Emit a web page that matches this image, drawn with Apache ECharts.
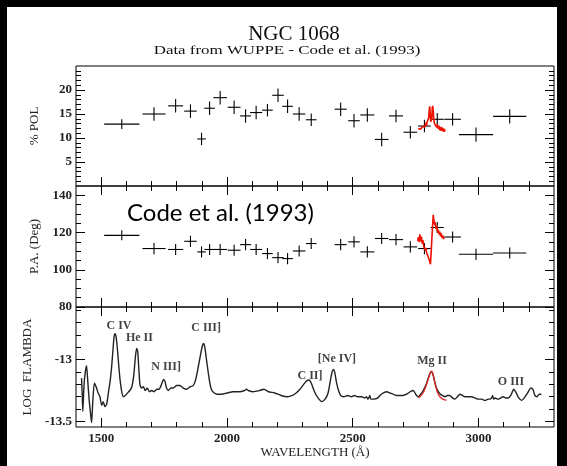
<!DOCTYPE html>
<html><head><meta charset="utf-8">
<script src="https://cdn.jsdelivr.net/npm/echarts@6/dist/echarts.min.js"></script>
<style>html,body{margin:0;padding:0;background:#000;}#c{width:567px;height:466px;}</style>
</head><body><div id="c"></div>
<script>
// ---- Data ----
const binLo = [1512,1664,1766,1830,1882,1910,1946,2003,2052,2092,2140,2180,2220,2262,2314,2428,2482,2530,2588,2644,2702,2760,2810,2864,2922,3058];
const binHi = [1652,1756,1826,1880,1916,1952,2000,2054,2096,2140,2182,2226,2262,2312,2356,2476,2528,2586,2642,2700,2756,2810,2862,2930,3058,3190];
const polVal = [12.9,15.0,16.7,15.6,9.8,16.2,18.4,16.4,14.6,15.3,15.8,18.9,16.6,15.0,13.8,16.0,13.6,14.8,9.7,14.6,11.2,12.5,13.9,13.9,10.7,14.5];
const polErr = [1.0,1.4,1.4,1.4,1.3,1.4,1.4,1.4,1.4,1.4,1.3,1.4,1.4,1.4,1.3,1.4,1.4,1.4,1.4,1.3,1.3,1.3,1.3,1.3,1.5,1.5];
const paVal = [118.5,111.4,110.9,115.3,109.6,110.9,110.9,110.5,113.5,110.9,108.7,106.5,106.0,110.1,114.1,113.5,115.0,109.6,116.8,116.2,112.3,111.4,122.7,117.6,108.3,109.0];
const paErr = [2.7,3.0,3.0,3.0,3.0,3.0,3.0,3.0,3.0,3.0,3.0,3.0,3.0,3.0,3.0,3.0,3.0,3.0,3.0,3.0,3.0,3.0,3.0,3.0,3.0,3.0];

const redPolLambda = [2760,2763,2766,2769,2772,2775,2778,2781,2784,2787,2790,2793,2796,2799,2802,2804,2806,2808,2810,2812,2814,2816,2818,2820,2822,2825,2828,2831,2834,2837,2840,2843,2846,2849,2852,2855,2858,2861,2864,2867];
const redPolVal = [12.0,11.6,12.3,11.8,12.2,11.9,12.4,12.0,12.8,12.3,13.2,12.6,13.4,13.0,14.2,15.8,16.6,15.0,13.4,13.0,14.0,16.2,16.7,15.6,14.0,13.0,12.6,13.1,12.2,12.8,11.9,12.5,11.6,12.3,11.5,12.2,11.4,12.0,11.3,11.8];
const redPaLambda = [2758,2761,2764,2767,2770,2773,2776,2779,2782,2785,2788,2791,2794,2797,2800,2803,2806,2809,2812,2815,2818,2820,2822,2824,2826,2828,2831,2834,2837,2840,2843,2846,2849,2852,2855,2858,2861,2864,2867];
const redPaVal = [115.5,117.5,114.8,119.0,115.2,117.8,114.0,116.0,112.5,113.5,110.5,111.8,109.0,110.0,107.0,108.0,104.5,103.0,110.0,118.0,125.0,129.5,127.0,128.0,124.0,125.5,122.0,123.5,120.0,121.5,119.0,120.5,118.0,119.5,117.0,118.5,116.5,117.5,116.0];

const specLambda = [1422,1425,1427,1432,1437,1442,1447,1452,1457,1462,1467,1473,1480,1488,1495,1502,1508,1515,1522,1530,1536,1542,1547,1551,1555,1559,1564,1570,1575,1581,1588,1596,1605,1614,1622,1630,1636,1641,1645,1649,1654,1660,1668,1675,1683,1692,1701,1710,1721,1730,1740,1748,1754,1760,1767,1777,1787,1800,1813,1826,1840,1853,1866,1876,1886,1895,1902,1907,1912,1918,1926,1933,1940,1950,1960,1980,2000,2025,2050,2070,2078,2085,2104,2130,2147,2165,2190,2215,2240,2260,2275,2290,2305,2318,2327,2335,2348,2362,2377,2390,2402,2412,2418,2423,2428,2435,2442,2452,2464,2480,2495,2506,2520,2535,2548,2555,2560,2564,2568,2572,2585,2600,2608,2622,2635,2648,2661,2675,2688,2700,2714,2728,2741,2750,2760,2770,2780,2790,2800,2807,2813,2820,2827,2835,2844,2855,2867,2876,2886,2896,2906,2916,2926,2936,2946,2960,2973,2986,2999,3012,3026,3038,3045,3052,3056,3060,3066,3078,3088,3098,3108,3118,3128,3140,3150,3160,3172,3182,3195,3208,3216,3224,3232,3242,3250];
const specFlux = [-13.15,-13.30,-13.42,-13.20,-13.10,-13.05,-13.18,-13.32,-13.42,-13.51,-13.33,-13.19,-13.22,-13.27,-13.30,-13.37,-13.34,-13.38,-13.36,-13.25,-13.17,-13.05,-12.92,-12.82,-12.79,-12.81,-12.90,-13.05,-13.16,-13.25,-13.30,-13.29,-13.27,-13.25,-13.22,-13.12,-12.98,-12.91,-12.93,-13.05,-13.20,-13.23,-13.22,-13.25,-13.23,-13.26,-13.25,-13.26,-13.24,-13.24,-13.20,-13.16,-13.18,-13.23,-13.25,-13.23,-13.23,-13.21,-13.21,-13.23,-13.24,-13.22,-13.21,-13.16,-13.06,-12.96,-12.89,-12.87,-12.90,-12.99,-13.11,-13.20,-13.25,-13.27,-13.28,-13.28,-13.27,-13.26,-13.26,-13.25,-13.24,-13.25,-13.26,-13.25,-13.24,-13.26,-13.27,-13.29,-13.30,-13.29,-13.27,-13.24,-13.20,-13.17,-13.165,-13.19,-13.26,-13.31,-13.34,-13.32,-13.27,-13.16,-13.10,-13.08,-13.10,-13.18,-13.24,-13.29,-13.30,-13.29,-13.30,-13.29,-13.30,-13.30,-13.31,-13.30,-13.32,-13.31,-13.29,-13.32,-13.32,-13.31,-13.29,-13.27,-13.26,-13.27,-13.28,-13.29,-13.29,-13.29,-13.28,-13.26,-13.25,-13.28,-13.30,-13.28,-13.25,-13.21,-13.15,-13.11,-13.095,-13.13,-13.19,-13.24,-13.27,-13.29,-13.30,-13.29,-13.29,-13.31,-13.32,-13.30,-13.28,-13.29,-13.30,-13.30,-13.30,-13.31,-13.32,-13.32,-13.33,-13.32,-13.32,-13.31,-13.29,-13.32,-13.31,-13.32,-13.31,-13.30,-13.31,-13.31,-13.29,-13.24,-13.27,-13.31,-13.33,-13.31,-13.27,-13.23,-13.24,-13.29,-13.30,-13.28,-13.28];
const mgFitLambda = [2762,2772,2782,2792,2800,2806,2810,2814,2818,2822,2828,2836,2846,2858,2872];
const mgFitFlux = [-13.31,-13.29,-13.26,-13.21,-13.16,-13.12,-13.10,-13.095,-13.11,-13.14,-13.20,-13.26,-13.30,-13.32,-13.33];

const lineNames = ['C IV','He II','N III]','C III]','C II]','[Ne IV]','Mg II','O III'];
const lineLambda = [1571,1652,1758,1917,2330,2437,2815,3129];
const lineFlux = [-12.73,-12.828,-13.063,-12.746,-13.128,-12.998,-13.007,-13.177];

const xMajor = [1500,2000,2500,3000];
const xMinor = [1500,1600,1700,1800,1900,2000,2100,2200,2300,2400,2500,2600,2700,2800,2900,3000,3100,3200];
const polMajor = [5,10,15,20];
const polMinor = [1,2,3,4,5,6,7,8,9,10,11,12,13,14,15,16,17,18,19,20,21,22,23,24];
const paMajor = [80,100,120,140];
const paMinor = [85,90,95,100,105,110,115,120,125,130,135,140];
const fluxMajor = [-13.5,-13];
const fluxMinor = [-13.5,-13.4,-13.3,-13.2,-13.1,-13.0,-12.9,-12.8,-12.7,-12.6];

// ---- Chart ----
const SERIF = 'Liberation Serif';
const panelBoxes = [
  {left:76, top:66, width:478, height:120},
  {left:76, top:186, width:478, height:121},
  {left:76, top:307, width:478, height:120}
];
// main grids (0..2) with frame; overlay grids (3..5) carry the minor ticks
const grids = panelBoxes.map(b => Object.assign({}, b, {show:true, borderColor:'#000', borderWidth:1, backgroundColor:'transparent'}))
  .concat(panelBoxes.map(b => Object.assign({}, b, {show:false})));

const yRanges = [[0,25],[80,145],[-13.545,-12.575]];
const yMajors = [polMajor, paMajor, fluxMajor];
const yMinors = [polMinor, paMinor, fluxMinor];
const yNames = ['% POL','P.A. (Deg)','LOG  FLAMBDA'];
const tickLine = {color:'#000', width:1};
const labelStyle = {fontFamily:SERIF, fontSize:13, fontWeight:'bold', color:'#222'};
const nameStyle = {fontFamily:SERIF, fontSize:13, color:'#222'};

const xAxes = [], yAxes = [];
for (let k = 0; k < 2; k++) {          // k=0 major, k=1 minor
  for (let g = 0; g < 3; g++) {
    const gi = g + 3 * k;
    ['bottom','top'].forEach(pos => {
      const showLab = k === 0 && g === 2 && pos === 'bottom';
      xAxes.push({gridIndex:gi, type:'value', min:1400, max:3300, position:pos,
        axisLine:{show:false}, splitLine:{show:false},
        axisTick:{show:true, inside:true, length: k===0 ? 9 : 5, customValues: k===0 ? xMajor : xMinor, lineStyle:tickLine},
        axisLabel:{show:showLab, customValues:xMajor, margin:5, formatter: v => String(v), ...labelStyle},
        name: showLab ? 'WAVELENGTH (Å)' : '', nameLocation:'middle', nameGap:19, nameTextStyle:nameStyle});
    });
    ['left','right'].forEach(pos => {
      const showLab = k === 0 && pos === 'left';
      yAxes.push({gridIndex:gi, type:'value', min:yRanges[g][0], max:yRanges[g][1], position:pos,
        axisLine:{show:false}, splitLine:{show:false},
        axisTick:{show:true, inside:true, length: k===0 ? 9 : 5, customValues: k===0 ? yMajors[g] : yMinors[g], lineStyle:tickLine},
        axisLabel:{show:showLab, customValues:yMajors[g], margin:4, formatter: v => String(v), ...labelStyle},
        name: showLab ? yNames[g] : '', nameLocation:'middle', nameGap:35, nameRotate:90, nameTextStyle:nameStyle});
    });
  }
}
// axis index for main panel g: 2*g (bottom/left)

function crossItem(params, api) {
  const lo = api.value(0), hi = api.value(1), v = api.value(2), e = api.value(3);
  const c = (lo + hi) / 2;
  const a = api.coord([lo, v]), b = api.coord([hi, v]);
  const t = api.coord([c, v + e]), u = api.coord([c, v - e]);
  const st = {stroke:'#000', lineWidth:1.1};
  return {type:'group', children:[
    {type:'line', shape:{x1:a[0], y1:a[1], x2:b[0], y2:b[1]}, style:st},
    {type:'line', shape:{x1:t[0], y1:t[1], x2:u[0], y2:u[1]}, style:st}
  ]};
}
const polData = binLo.map((lo,i) => [lo, binHi[i], polVal[i], polErr[i]]);
const paData = binLo.map((lo,i) => [lo, binHi[i], paVal[i], paErr[i]]);

const series = [
  {type:'custom', xAxisIndex:0, yAxisIndex:0, renderItem:crossItem, data:polData, encode:{x:[0,1], y:2}, silent:true},
  {type:'line', xAxisIndex:0, yAxisIndex:0, data:redPolLambda.map((x,i)=>[x,redPolVal[i]]), showSymbol:false,
    lineStyle:{color:'#ee1100', width:1.6}, z:5},
  {type:'custom', xAxisIndex:2, yAxisIndex:2, renderItem:crossItem, data:paData, encode:{x:[0,1], y:2}, silent:true},
  {type:'line', xAxisIndex:2, yAxisIndex:2, data:redPaLambda.map((x,i)=>[x,redPaVal[i]]), showSymbol:false,
    lineStyle:{color:'#ee1100', width:1.6}, z:5},
  {type:'line', xAxisIndex:4, yAxisIndex:4, data:specLambda.map((x,i)=>[x,specFlux[i]]), showSymbol:false,
    smooth:0.2, lineStyle:{color:'#222', width:1.4}},
  {type:'line', xAxisIndex:4, yAxisIndex:4, data:mgFitLambda.map((x,i)=>[x,mgFitFlux[i]]), showSymbol:false,
    smooth:0.3, lineStyle:{color:'#dd2222', width:1.3}, z:5},
  {type:'scatter', xAxisIndex:4, yAxisIndex:4, symbolSize:0,
    data:lineLambda.map((x,i)=>({value:[x,lineFlux[i]], name:lineNames[i]})),
    label:{show:true, position:'inside', formatter:p=>p.name, fontFamily:SERIF, fontSize:12, fontWeight:'bold', color:'#111'}}
];

const chart = echarts.init(document.getElementById('c'), null, {renderer:'canvas'});
chart.setOption({
  backgroundColor:'#000',
  animation:false,
  grid:grids, xAxis:xAxes, yAxis:yAxes, series:series,
  graphic:[
    {type:'rect', left:7, top:7, shape:{width:550, height:459}, style:{fill:'#fff'}, z:-10},
    {type:'text', x:294, y:34, style:{text:'NGC 1068', fontFamily:SERIF, fontSize:21, fill:'#111', textAlign:'center', textVerticalAlign:'middle'}},
    {type:'text', x:287, y:51, scaleX:1.3, style:{text:'Data from WUPPE - Code et al. (1993)', fontFamily:SERIF, fontSize:13, fill:'#111', textAlign:'center', textVerticalAlign:'middle'}},
    {type:'text', x:127, y:213, style:{text:'Code et al. (1993)', fontFamily:'Lato', fontSize:24, fill:'#000', textAlign:'left', textVerticalAlign:'middle'}}
  ]
});
</script></body></html>
